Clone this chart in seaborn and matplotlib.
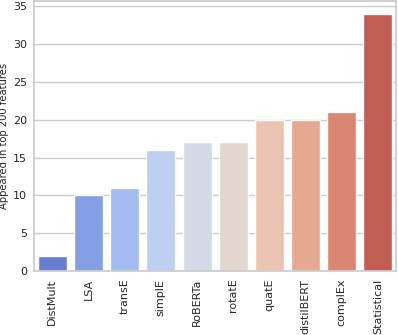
import matplotlib
matplotlib.use('Agg')
import matplotlib.pyplot as plt
import seaborn as sns
import pandas as pd

models = ['DistMult', 'LSA', 'transE', 'simplE', 'RoBERTa', 'rotatE',
          'quatE', 'distilBERT', 'complEx', 'Statistical']
counts = [2, 10, 11, 16, 17, 17, 20, 20, 21, 34]

sns.set_theme(style='whitegrid')
plt.rcParams['font.family'] = ['DejaVu Sans']

df = pd.DataFrame({'model': models, 'count': counts})

fig, ax = plt.subplots(figsize=(3.98, 3.35), dpi=100)
sns.barplot(data=df, x='model', y='count', hue='model', palette='coolwarm',
            legend=False, ax=ax)
ax.set_xlabel('')
ax.set_ylabel('Appeared in top 200 features', fontsize=7.2, labelpad=3)
ax.tick_params(axis='x', labelrotation=90, labelsize=8, length=0, pad=5.5)
ax.tick_params(axis='y', labelsize=8, length=0, pad=5)
ax.set_yticks(range(0, 36, 5))
plt.subplots_adjust(left=0.086, right=0.995, top=0.997, bottom=0.191)
fig.savefig('out.png', dpi=100)
